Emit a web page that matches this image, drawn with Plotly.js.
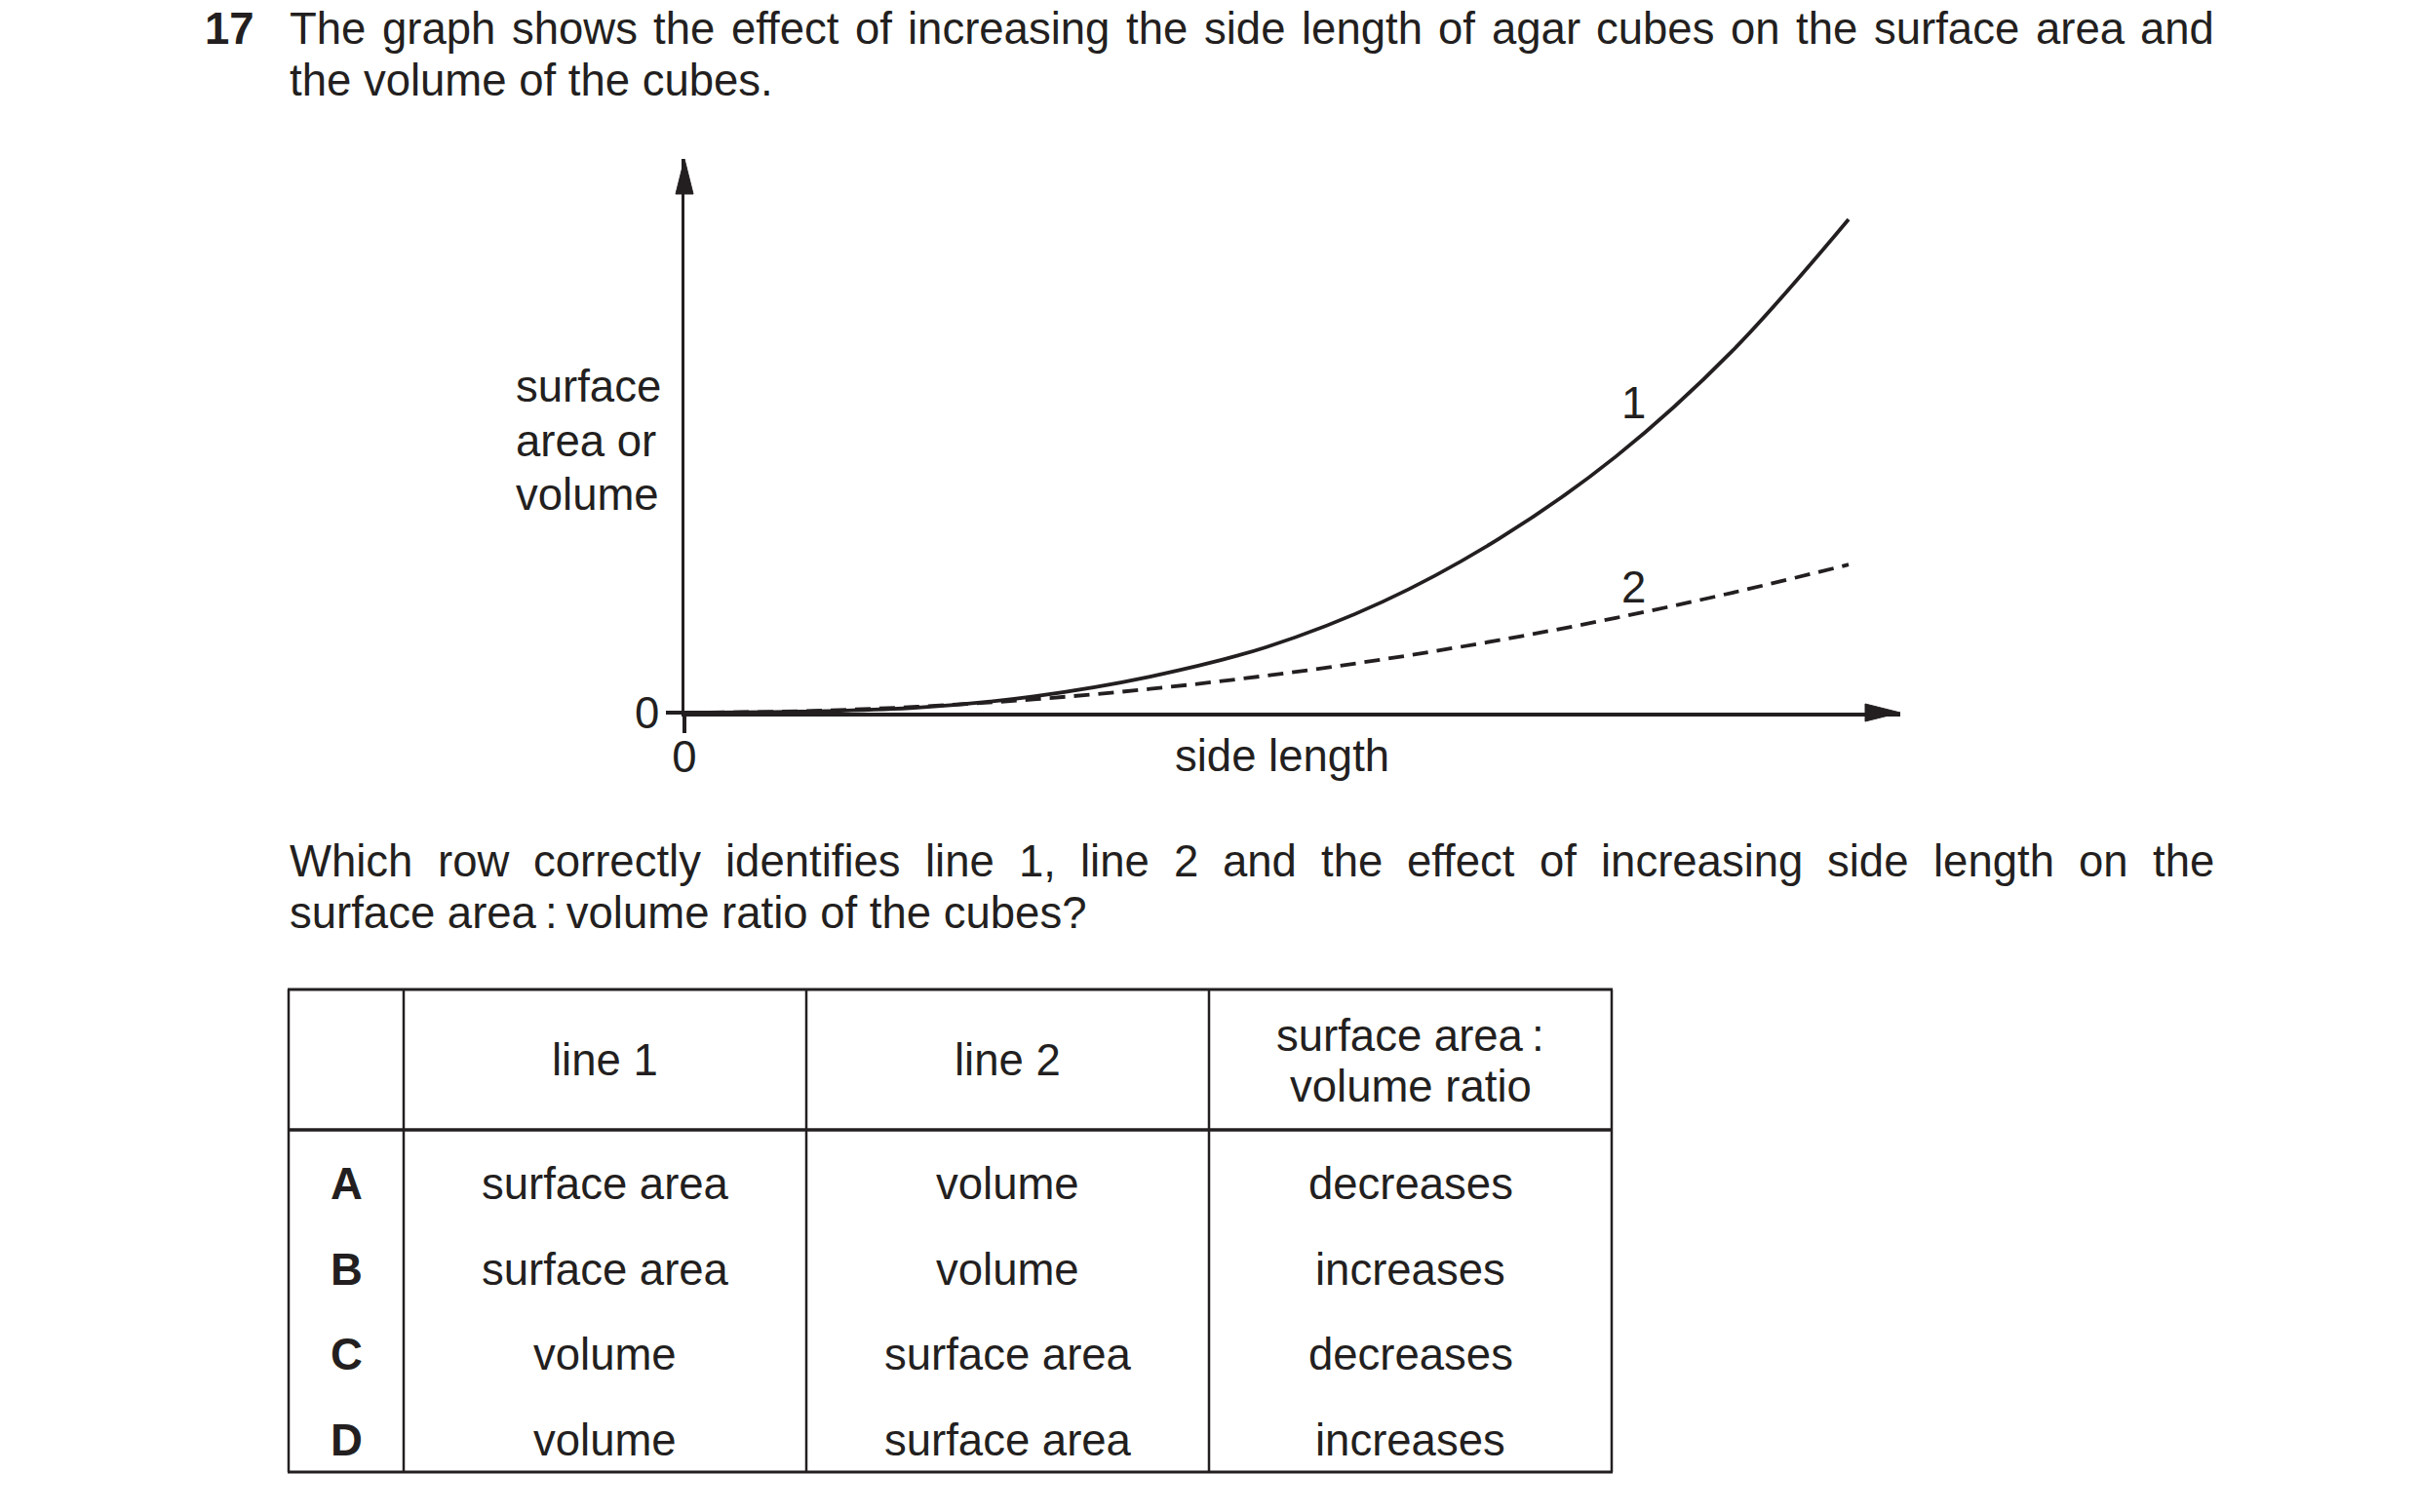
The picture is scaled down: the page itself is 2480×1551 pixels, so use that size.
<!DOCTYPE html>
<html>
<head>
<meta charset="utf-8">
<script src="https://cdn.plot.ly/plotly-3.0.1.min.js"></script>
<style>
html,body{margin:0;padding:0;background:#ffffff;}
#chart{width:2480px;height:1551px;}
</style>
</head>
<body>
<div id="chart"></div>
<script>
// ---------------- data ----------------
const sideLength  = [0, 1, 2, 3, 4, 5, 6, 7, 8, 9, 10];
const line1Values = [0, 0.002, 0.010, 0.033, 0.073, 0.133, 0.225, 0.353, 0.519, 0.733, 1.0];
const line2Values = [0, 0.003, 0.012, 0.027, 0.048, 0.075, 0.108, 0.147, 0.192, 0.243, 0.300];
const lineLabels  = ['1', '2'];
const xAxisLabel  = 'side length';
const yAxisLabelLines = ['surface', 'area or', 'volume'];
const xTickVals = [0];
const xTickText = ['0'];
const yTickVals = [0];
const yTickText = ['0'];

const questionNumber = '17';
const introLines = [
  'The graph shows the effect of increasing the side length of agar cubes on the surface area and',
  'the volume of the cubes.'
];
const questionLines = [
  'Which row correctly identifies line 1, line 2 and the effect of increasing side length on the',
  'surface area\u2009:\u2009volume ratio of the cubes?'
];
const tableHeaders  = ['', 'line 1', 'line 2', 'surface area\u2009:\nvolume ratio'];
const rowLetters    = ['A', 'B', 'C', 'D'];
const line1Options  = ['surface area', 'surface area', 'volume', 'volume'];
const line2Options  = ['volume', 'volume', 'surface area', 'surface area'];
const ratioOptions  = ['decreases', 'increases', 'decreases', 'increases'];

// ---------------- layout helpers ----------------
const W = 2480, H = 1551;
const INK = '#231f20';
const FONT = '"Liberation Sans", Arial, Helvetica, sans-serif';
const FS = 45.5;
const px = p => p / W;
const py = p => 1 - p / H;

const annotations = [];
function txt(text, x, y, opts) {
  opts = opts || {};
  annotations.push({
    text: text, xref: 'paper', yref: 'paper', x: px(x), y: py(y),
    xanchor: opts.xanchor || 'center', yanchor: 'middle',
    showarrow: false, borderpad: 0, borderwidth: 0,
    font: {family: FONT, size: opts.size || FS, color: INK, weight: opts.weight || 'normal'}
  });
}
const ctx = document.createElement('canvas').getContext('2d');
function measure(t, weight) {
  ctx.font = (weight || 'normal') + ' ' + FS + 'px "Liberation Sans", Arial, sans-serif';
  return ctx.measureText(t).width;
}
function justified(text, x0, x1, y) {
  const words = text.split(' ');
  const widths = words.map(w => measure(w));
  const total = widths.reduce((a, b) => a + b, 0);
  const gap = (x1 - x0 - total) / (words.length - 1);
  let x = x0;
  words.forEach((w, i) => { txt(w, x, y, {xanchor: 'left'}); x += widths[i] + gap; });
}

// ---------------- text block ----------------
const TEXT_L = 297, TEXT_R = 2271;
txt(questionNumber, 210, 30, {xanchor: 'left', weight: 'bold'});
justified(introLines[0], TEXT_L, TEXT_R, 30);
txt(introLines[1], TEXT_L, 82, {xanchor: 'left'});
justified(questionLines[0], TEXT_L, TEXT_R, 883);
txt(questionLines[1], TEXT_L, 936, {xanchor: 'left'});

// ---------------- chart geometry ----------------
const OX = 702, OY = 731;           // origin in pixels
const XTIP = 1949, YTIP = 163;      // arrow tips
const XU = 119.4, YU = 506;         // pixels per data unit

// axis labels
yAxisLabelLines.forEach((l, i) => txt(l, 529, [397, 452, 507][i], {xanchor: 'left'}));
txt(xAxisLabel, 1315, 775);
txt(lineLabels[0], 1675, 414);
txt(lineLabels[1], 1675, 602);

// ---------------- table ----------------
const colX = [296, 414, 827, 1240, 1653];
const T_TOP = 1015, T_HEAD = 1159, T_BOT = 1510;
const rowY = [1214, 1302, 1389, 1477];
const shapes = [];
function seg(x0, y0, x1, y1, w) {
  shapes.push({type: 'line', xref: 'paper', yref: 'paper', x0: px(x0), y0: py(y0), x1: px(x1), y1: py(y1),
               line: {color: INK, width: w}});
}
colX.forEach(x => seg(x, T_TOP, x, T_BOT, 2.5));
seg(colX[0] - 1, T_TOP, colX[4] + 1, T_TOP, 3);
seg(colX[0] - 1, T_HEAD, colX[4] + 1, T_HEAD, 3.5);
seg(colX[0] - 1, T_BOT, colX[4] + 1, T_BOT, 3);

const colC = [0, 1, 2, 3].map(i => (colX[i] + colX[i + 1]) / 2);
tableHeaders.forEach((h, i) => {
  const parts = h.split('\n');
  if (!h) return;
  if (parts.length === 1) txt(parts[0], colC[i], 1087);
  else parts.forEach((p, j) => txt(p, colC[i], [1062, 1114][j]));
});
rowLetters.forEach((r, i) => {
  txt(r, colC[0], rowY[i], {weight: 'bold'});
  txt(line1Options[i], colC[1], rowY[i]);
  txt(line2Options[i], colC[2], rowY[i]);
  txt(ratioOptions[i], colC[3], rowY[i]);
});

// arrowheads at axis ends (pixel-sized paths anchored at the tips)
shapes.push({type: 'path', xref: 'paper', yref: 'paper', xsizemode: 'pixel', ysizemode: 'pixel',
             xanchor: px(XTIP), yanchor: py(OY), path: 'M0,0 L-36,9 L-36,-9 Z',
             fillcolor: INK, line: {color: INK, width: 1}});
shapes.push({type: 'path', xref: 'paper', yref: 'paper', xsizemode: 'pixel', ysizemode: 'pixel',
             xanchor: px(OX), yanchor: py(YTIP), path: 'M0,0 L-9,-36 L9,-36 Z',
             fillcolor: INK, line: {color: INK, width: 1}});

// ---------------- traces ----------------
const traces = [
  {x: sideLength, y: line1Values, type: 'scatter', mode: 'lines', name: 'line 1',
   line: {color: INK, width: 3.8, shape: 'spline', smoothing: 1}, hoverinfo: 'skip', cliponaxis: false},
  {x: sideLength, y: line2Values, type: 'scatter', mode: 'lines', name: 'line 2',
   line: {color: INK, width: 3.8, dash: '16px,9px', shape: 'spline', smoothing: 1}, hoverinfo: 'skip', cliponaxis: false}
];

const layout = {
  width: W, height: H,
  margin: {l: 0, r: 0, t: 0, b: 0},
  paper_bgcolor: '#ffffff', plot_bgcolor: 'rgba(0,0,0,0)',
  showlegend: false,
  xaxis: {
    domain: [px(OX), px(XTIP)], range: [0, (XTIP - OX) / XU],
    showgrid: false, zeroline: false, showline: true, linecolor: INK, linewidth: 3.5,
    ticks: 'outside', ticklen: 17, tickwidth: 3.5, tickcolor: INK,
    tickvals: xTickVals, ticktext: xTickText, ticklabelstandoff: -14,
    tickfont: {family: FONT, size: FS, color: INK}, fixedrange: true
  },
  yaxis: {
    domain: [py(OY), py(YTIP)], range: [0, (OY - YTIP) / YU],
    showgrid: false, zeroline: false, showline: true, linecolor: INK, linewidth: 3.5,
    ticks: 'outside', ticklen: 16, tickwidth: 3.5, tickcolor: INK,
    tickvals: yTickVals, ticktext: yTickText, ticklabelstandoff: -3,
    tickfont: {family: FONT, size: FS, color: INK}, fixedrange: true
  },
  annotations: annotations,
  shapes: shapes
};

Plotly.newPlot('chart', traces, layout, {staticPlot: true, displayModeBar: false});
</script>
</body>
</html>
